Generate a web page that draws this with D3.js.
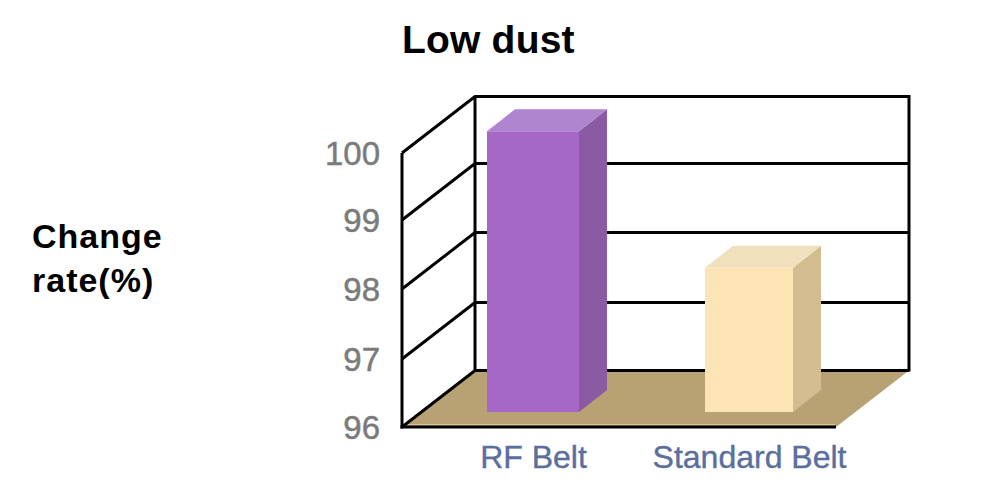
<!DOCTYPE html>
<html><head><meta charset="utf-8">
<script src="https://cdn.jsdelivr.net/npm/d3@7"></script>
<style>html,body{margin:0;padding:0;background:#fff}svg{display:block}text{font-family:"Liberation Sans",Arial,sans-serif}</style>
</head><body><div id="c"></div>
<script>
const categories = ["RF Belt", "Standard Belt"];
const values = [100.1, 98.09];
const yTicks = [96, 97, 98, 99, 100];
const titleText = "Low dust";
const yTitleLines = ["Change", "rate(%)"];

const W = 1000, H = 503;
const y = d3.scaleLinear().domain(yTicks).range([427, 359, 289, 220, 153]);
const x = d3.scalePoint().domain(categories).range([533, 749]);
const barW = d3.scaleOrdinal().domain(categories).range([92, 88]);
const wallDx = 73, wallDy = 56.5, wallW = 434;
const barDx = 28, barDy = 22, floorDy = 15, baseV = 96;

const svg = d3.select("#c").append("svg").attr("width", W).attr("height", H);
const x0 = 402, xBack = x0 + wallDx, xRight = xBack + wallW, y0 = y(96);

// floor
svg.append("polygon")
  .attr("points", [[x0,y0],[xBack,y0-wallDy],[xRight,y0-wallDy],[xRight-wallDx,y0]].join(" "))
  .attr("fill", "#b8a273");
svg.append("line").attr("x1",x0+4).attr("x2",xRight-wallDx-1).attr("y1",y0-2.5).attr("y2",y0-2.5)
  .attr("stroke","#d8c79f").attr("stroke-width",1);

// walls
const g = svg.append("g");
const applyLn = s => s.attr("stroke","#000").attr("stroke-width",3).attr("fill","none").attr("stroke-linejoin","miter");
yTicks.forEach(t => {
  const yy = y(t);
  applyLn(g.append("polyline")).attr("points",[[x0,yy],[xBack,yy-wallDy],[xRight,yy-wallDy]].join(" "));
});
applyLn(g.append("line")).attr("x1",x0).attr("x2",x0).attr("y1",y(100)).attr("y2",y(96)+1.5);
applyLn(g.append("line")).attr("x1",xBack).attr("x2",xBack).attr("y1",y(100)-wallDy).attr("y2",y(96)-wallDy);
applyLn(g.append("line")).attr("x1",xRight).attr("x2",xRight).attr("y1",y(100)-wallDy-1.5).attr("y2",y(96)-wallDy+1);
applyLn(g.append("line")).attr("x1",x0-1.5).attr("x2",xRight-wallDx).attr("y1",y0).attr("y2",y0);

// bars
const palettes = [
  {front:"#a568c6", top:"#b085d0", side:"#8a5ba3"},
  {front:"#fce4b4", top:"#f0e0bd", side:"#d3bd90"}
];
const bars = svg.append("g").selectAll("g").data(categories).join("g");
bars.each(function(c,i){
  const b = d3.select(this), w = barW(c), l = x(c)-w/2, r = l+w;
  const bot = y(baseV)-floorDy, top = bot-(y(baseV)-y(values[i]));
  b.append("polygon").attr("fill",palettes[i].side)
    .attr("points",[[r,top],[r+barDx,top-barDy],[r+barDx,bot-barDy],[r,bot]].join(" "));
  b.append("polygon").attr("fill",palettes[i].top)
    .attr("points",[[l,top],[l+barDx,top-barDy],[r+barDx,top-barDy],[r,top]].join(" "));
  b.append("rect").attr("fill",palettes[i].front).attr("x",l).attr("y",top).attr("width",w).attr("height",bot-top);
});

// y axis labels
const ya = svg.append("g").attr("transform","translate(380,1)")
  .call(d3.axisLeft(y).tickValues(yTicks).tickSize(0).tickPadding(0).tickFormat(d3.format("d")));
ya.select(".domain").remove();
ya.selectAll("text").attr("fill","#7b7b7b").attr("stroke","#7b7b7b").attr("stroke-width",0.5)
  .style("font-size","33px").style("font-family",'"Liberation Sans",Arial,sans-serif');

// x axis labels
const xa = svg.append("g").attr("transform","translate(0,445)")
  .call(d3.axisBottom(x).tickSize(0).tickPadding(0));
xa.select(".domain").remove();
xa.selectAll("text").attr("fill","#5a6f9e").attr("stroke","#5a6f9e").attr("stroke-width",0.4)
  .style("font-size","32px").style("font-family",'"Liberation Sans",Arial,sans-serif');

// titles
svg.append("text").attr("x",402).attr("y",53).attr("font-weight","bold").attr("font-size",39)
  .attr("letter-spacing",0.2).attr("fill","#000").text(titleText);
svg.append("text").attr("font-weight","bold").attr("font-size",34).attr("letter-spacing",1)
  .attr("fill","#000")
  .selectAll("tspan").data(yTitleLines).join("tspan")
  .attr("x",32).attr("y",(d,i)=>248+i*44).text(d=>d);
</script></body></html>
